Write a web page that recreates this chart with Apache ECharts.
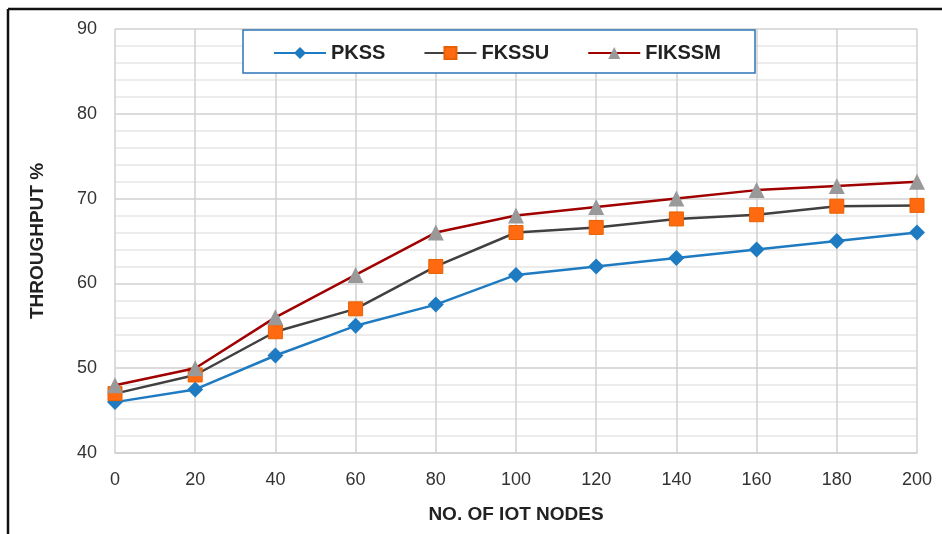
<!DOCTYPE html>
<html>
<head>
<meta charset="utf-8">
<title>Throughput</title>
<script src="https://cdn.jsdelivr.net/npm/echarts@6/dist/echarts.min.js"></script>
<style>
  html, body { margin: 0; padding: 0; background: #fff; }
  #main { width: 942px; height: 534px; }
</style>
</head>
<body>
<div id="main"></div>
<script>
// x axis: number of IoT nodes
var nodes = ['0', '20', '40', '60', '80', '100', '120', '140', '160', '180', '200'];
// throughput % per scheme
var pkss   = [46, 47.5, 51.5, 55, 57.5, 61, 62, 63, 64, 65, 66];
var fkssu  = [47, 49.2, 54.3, 57, 62, 66, 66.6, 67.6, 68.1, 69.1, 69.2];
var fikssm = [48, 50, 56, 61, 66, 68, 69, 70, 71, 71.5, 72];

var font = '"Liberation Sans Narrow", "Liberation Sans", Arial, sans-serif';

var chart = echarts.init(document.getElementById('main'));
chart.setOption({
  animation: false,
  backgroundColor: '#fff',
  textStyle: { fontFamily: font },
  grid: { left: 115, right: 25, top: 29, bottom: 81 },
  graphic: [
    // black frame on top and left, like the cropped original
    { type: 'line', shape: { x1: 8, y1: 9, x2: 942, y2: 9 }, style: { stroke: '#111', lineWidth: 2.5 } },
    { type: 'line', shape: { x1: 8, y1: 9, x2: 8, y2: 534 }, style: { stroke: '#111', lineWidth: 2.5 } },
    // legend box
    { type: 'rect', z: 90, shape: { x: 243, y: 30, width: 512, height: 43 },
      style: { fill: '#fff', stroke: '#2e75b6', lineWidth: 1.5 } }
  ],
  legend: {
    top: 38,
    left: 268,
    z: 100,
    itemGap: 38,
    itemWidth: 52,
    itemHeight: 15,
    textStyle: { fontSize: 20, fontWeight: 'bold', color: '#222', fontFamily: font },
    data: ['PKSS', 'FKSSU', 'FIKSSM']
  },
  xAxis: {
    type: 'category',
    data: nodes,
    boundaryGap: false,
    name: 'NO. OF IOT NODES',
    nameLocation: 'middle',
    nameGap: 52,
    nameTextStyle: { fontSize: 19, fontWeight: 'bold', color: '#222', fontFamily: font },
    axisLine: { show: true, lineStyle: { color: '#d0d0d0', width: 1.5 } },
    axisTick: { show: false },
    axisLabel: { fontSize: 18, color: '#333', margin: 18, fontFamily: font },
    splitLine: { show: true, lineStyle: { color: '#d0d0d0', width: 1.5 } }
  },
  yAxis: {
    type: 'value',
    min: 40,
    max: 90,
    interval: 10,
    name: 'THROUGHPUT %',
    nameLocation: 'middle',
    nameGap: 68,
    nameTextStyle: { fontSize: 19, fontWeight: 'bold', color: '#222', fontFamily: font },
    axisLine: { show: false },
    axisTick: { show: false },
    axisLabel: { fontSize: 18, color: '#333', margin: 18, fontFamily: font },
    splitLine: { show: true, lineStyle: { color: '#d0d0d0', width: 1.5 } },
    minorTick: { show: false, splitNumber: 5 },
    minorSplitLine: { show: true, lineStyle: { color: '#e6e6e6', width: 1.5 } }
  },
  series: [
    {
      name: 'PKSS',
      type: 'line',
      data: pkss,
      symbol: 'diamond',
      symbolSize: 16,
      lineStyle: { color: '#1f7bc1', width: 2.5 },
      itemStyle: { color: '#1f7bc1' },
      z: 3
    },
    {
      name: 'FKSSU',
      type: 'line',
      data: fkssu,
      symbol: 'rect',
      symbolSize: 14,
      lineStyle: { color: '#404040', width: 2.5 },
      itemStyle: { color: '#ff6a10', borderColor: '#e86000', borderWidth: 1 },
      z: 4
    },
    {
      name: 'FIKSSM',
      type: 'line',
      data: fikssm,
      symbol: 'triangle',
      symbolSize: 16,
      lineStyle: { color: '#a00000', width: 2.5 },
      itemStyle: { color: '#999999' },
      z: 5
    }
  ]
});
</script>
</body>
</html>
